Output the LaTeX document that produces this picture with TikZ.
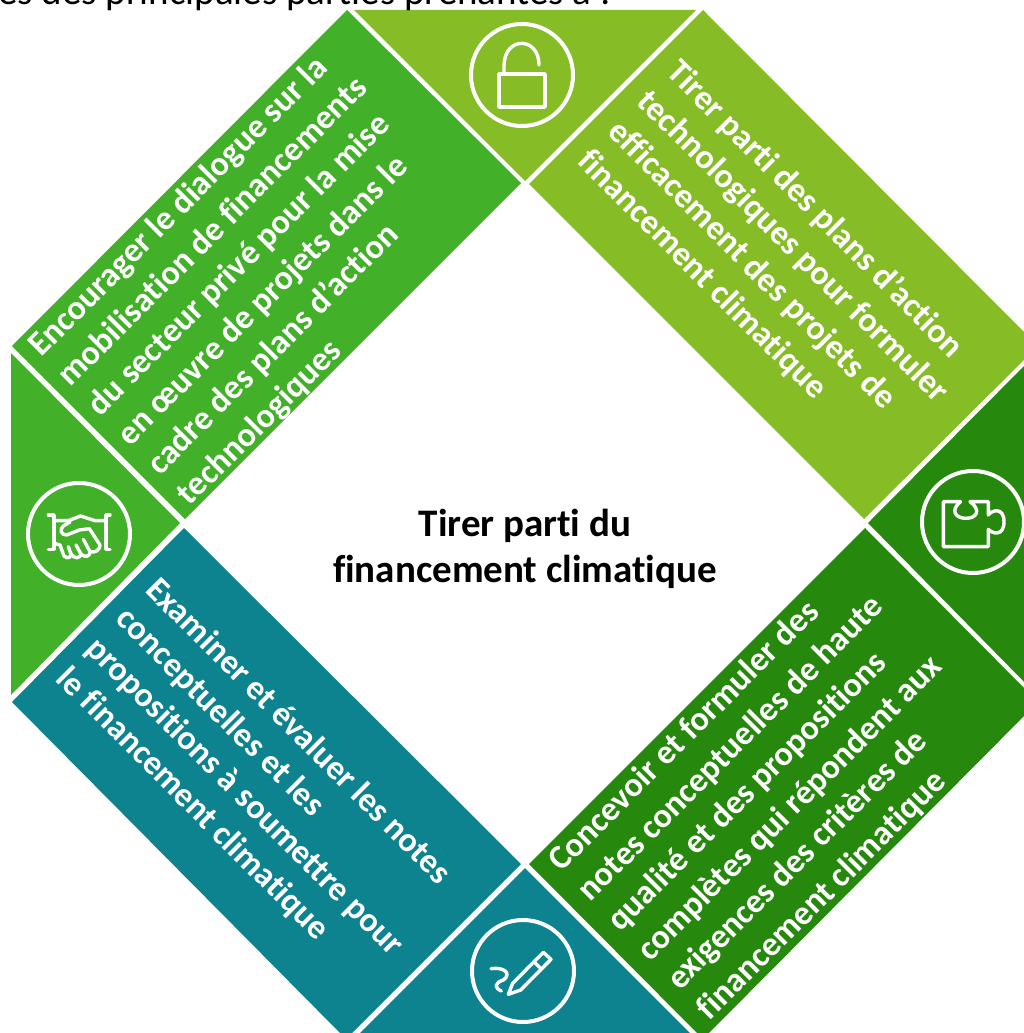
\documentclass[tikz,border=0pt]{standalone}
\usepackage{fontspec}
\setmainfont{Carlito}[Ligatures=NoCommon]
\definecolor{olive}{HTML}{86BC25}
\definecolor{leaf}{HTML}{43B02A}
\definecolor{forest}{HTML}{26890D}
\definecolor{tealc}{HTML}{0D8390}
\tikzset{
  paneltext/.style={text=white,font=\bfseries\fontsize{34.2}{42}\selectfont,align=left,inner sep=0pt},
  iconline/.style={draw=white,line width=3.4pt,line cap=round,line join=round},
  ring/.style={draw=white,line width=4pt}
}
\begin{document}
\begin{tikzpicture}[x=1pt,y=-1pt]
\clip (0,0) rectangle (1024,1033);
\useasboundingbox (0,0) rectangle (1024,1033);
\fill[white] (0,0) rectangle (1024,1033);
\fill[leaf] (347,10) -- (521,183) -- (185,519) -- (12,346) -- cycle;
\fill[olive] (354,10) -- (696,10) -- (525,181) -- cycle;
\fill[olive] (703,10) -- (1038,346) -- (864,519) -- (529,184) -- cycle;
\fill[forest] (868,523) -- (1037,353) -- (1037,695) -- cycle;
\fill[forest] (865,528) -- (1038,702) -- (703,1039) -- (529,864) -- cycle;
\fill[tealc] (525,868) -- (696,1039) -- (354,1039) -- cycle;
\fill[tealc] (184,528) -- (521,864) -- (346,1039) -- (12,702) -- cycle;
\fill[leaf] (11,353) -- (180,523) -- (11,695) -- cycle;

\node[anchor=base west,inner sep=0pt,font=\fontsize{39}{44}\selectfont] (head) at (-2,5) {es des principales parties prenantes à :};
\node[align=center,inner sep=0pt,font=\bfseries\fontsize{39}{46}\selectfont] (centre) at (525,549) {Tirer parti du\\financement climatique};

\node[paneltext,rotate=45,anchor=north west] (ul) at (24,341) {Encourager le dialogue sur la\\mobilisation de financements\\du secteur privé pour la mise\\en œuvre de projets dans le\\cadre des plans d’action\\technologiques};
\node[paneltext,rotate=-45,anchor=north west] (ur) at (683,56) {Tirer parti des plans d’action\\technologiques pour formuler\\efficacement des projets de\\financement climatique};
\node[paneltext,rotate=-45,anchor=north west] (ll) at (161,574) {Examiner et évaluer les notes\\conceptuelles et les\\propositions à soumettre pour\\le financement climatique};
\node[paneltext,rotate=45,anchor=north west] (lr) at (544,856) {Concevoir et formuler des\\notes conceptuelles de haute\\qualité et des propositions\\complètes qui répondent aux\\exigences des critères de\\financement climatique};

% rings
\draw[ring] (522,75) circle[radius=51];
\draw[ring] (79,534) circle[radius=51];
\draw[ring] (973,522) circle[radius=51];
\draw[ring] (523,971) circle[radius=51];

% lock
\draw[iconline] (499,74) rectangle (545,107);
\draw[iconline] (504,74) -- (504,66) .. controls (504,36) and (539,36) .. (539,65);

% handshake
\begin{scope}[shift={(0,450)},x=0.3333pt,y=-0.3333pt]
\draw[iconline] (145,195) -- (162,195) -- (162,298) -- (145,298);
\draw[iconline] (330,195) -- (318,195) -- (318,298) -- (330,298);
\draw[iconline] (162,212) -- (205,212) -- (242,198) -- (285,212) -- (318,212);
\draw[iconline] (210,216) -- (190,228) .. controls (178,238) and (182,255) .. (200,255) -- (238,240) -- (268,236) -- (300,285);
\draw[iconline] (162,280) -- (180,285) -- (192,318) .. controls (205,330) and (215,320) .. (212,310) -- (205,290);
\draw[iconline] (212,310) .. controls (225,330) and (240,325) .. (243,312) -- (228,285);
\draw[iconline] (243,312) .. controls (255,325) and (272,318) .. (270,305) -- (250,268);
\draw[iconline] (270,305) .. controls (285,310) and (300,300) .. (300,285);
\end{scope}

% puzzle
\begin{scope}[shift={(860,450)},x=0.3333pt,y=-0.3333pt]
\draw[iconline] (250,155) -- (250,290) -- (385,290) -- (385,238) .. controls (395,250) and (432,262) .. (432,215) .. controls (432,170) and (395,180) .. (385,195) -- (385,155) -- (330,155) .. controls (365,180) and (350,205) .. (318,205) .. controls (285,205) and (270,180) .. (302,155) -- cycle;
\end{scope}

% pen
\begin{scope}[shift={(440,900)},x=0.3333pt,y=-0.3333pt]
\draw[iconline] (205,283) -- (218,250) -- (310,157) -- (333,178) -- (242,270) -- cycle;
\draw[iconline] (283,186) -- (304,207);
\draw[iconline] (153,206) .. controls (195,200) and (215,222) .. (190,240) .. controls (160,250) and (165,265) .. (184,273);
\end{scope}
\end{tikzpicture}
\end{document}
